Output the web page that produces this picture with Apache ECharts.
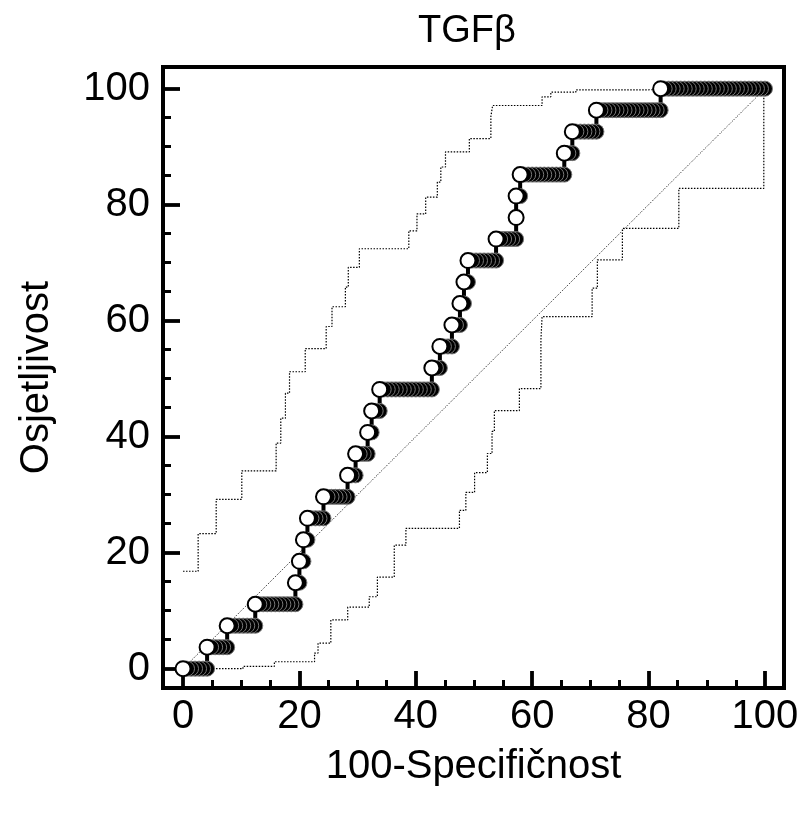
<!DOCTYPE html>
<html><head><meta charset="utf-8">
<script src="https://cdn.jsdelivr.net/npm/echarts@6/dist/echarts.min.js"></script>
<style>html,body{margin:0;padding:0;background:#fff}#c{width:804px;height:814px}</style>
</head><body><div id="c"></div>
<script>
// ---- data ----
const titleText = 'TGFβ';
const xName = '100-Specifičnost';
const yName = 'Osjetljivost';
const majorTicks = [0, 20, 40, 60, 80, 100];
const minorTicks = [5, 10, 15, 25, 30, 35, 45, 50, 55, 65, 70, 75, 85, 90, 95];

// ROC: number of negatives / positives, and false-positive counts reached at each true-positive count
const nNeg = 145;
const nPos = 27;
const fpByTp = [
  [0, 1, 2, 3, 4, 5, 6],
  [6, 7, 8, 9, 10, 11],
  [11, 12, 13, 14, 15, 16, 17, 18],
  [18, 19, 20, 21, 22, 23, 24, 25, 26, 27, 28],
  [28, 29],
  [29, 30],
  [30, 31],
  [31, 32, 33, 34, 35],
  [35, 36, 37, 38, 39, 40, 41],
  [41, 42, 43],
  [43, 44, 45, 46],
  [46, 47],
  [47, 48, 49],
  [49, 50, 51, 52, 53, 54, 55, 56, 57, 58, 59, 60, 61, 62],
  [62, 63, 64],
  [64, 65, 66, 67],
  [67, 68, 69],
  [69, 70],
  [70, 71],
  [71, 72, 73, 74, 75, 76, 77, 78],
  [78, 79, 80, 81, 82, 83],
  [83],
  [83, 84],
  [84, 85, 86, 87, 88, 89, 90, 91, 92, 93, 94, 95],
  [95, 96, 97],
  [97, 98, 99, 100, 101, 102, 103],
  [103, 104, 105, 106, 107, 108, 109, 110, 111, 112, 113, 114, 115, 116, 117, 118, 119],
  [119, 120, 121, 122, 123, 124, 125, 126, 127, 128, 129, 130, 131, 132, 133, 134, 135, 136, 137, 138, 139, 140, 141, 142, 143, 144, 145]
];

// 95% confidence bounds (step points, x = 100-specificity, y = sensitivity)
const upperCI = [
  [0, 16.8], [2.6, 23.3], [5.7, 29.2], [10.1, 34.1], [16.0, 38.9], [16.8, 43.2], [17.6, 47.5],
  [18.3, 51.2], [21.0, 55.2], [24.6, 59.0], [25.6, 62.4], [27.9, 65.8], [28.4, 69.2], [30.3, 72.4],
  [38.8, 75.5], [40.2, 78.4], [41.7, 81.3], [43.7, 83.9], [44.3, 86.5], [45.1, 89.1], [49.2, 91.4],
  [52.9, 95.2], [53.2, 97.1], [61.7, 98.6], [63.2, 99.4], [67.5, 99.8], [78.6, 100], [100, 100]
];
const lowerCI = [
  [0, 0], [10.3, 0.4], [15.7, 1.2], [22.6, 2.7], [23.2, 4.4], [25.4, 8.4], [28.3, 10.6], [32.0, 12.4],
  [33.4, 15.8], [36.3, 21.3], [38.3, 24.2], [47.5, 27.3], [48.6, 30.4], [50.1, 33.8], [52.3, 37.1],
  [53.1, 40.9], [53.5, 44.5], [57.8, 48.3], [61.5, 56.7], [61.7, 60.7], [70.3, 65.6], [71.2, 70.5],
  [75.5, 75.9], [85.2, 82.8], [99.8, 100], [100, 100]
];
const diagonal = [[0, 0], [100, 100]];

// ---- build ----
const rocLine = [];
const rocPoints = [];
fpByTp.forEach((fps, tp) => {
  fps.forEach(fp => rocLine.push([fp * 100 / nNeg, tp * 100 / nPos]));
  const rev = fps.slice().reverse();
  rev.forEach((fp, i) => {
    const lead = i === rev.length - 1; // leftmost point of the run, drawn on top
    rocPoints.push({
      value: [fp * 100 / nNeg, tp * 100 / nPos],
      itemStyle: lead ? {color: '#ffffff', borderColor: '#000', borderWidth: 2, opacity: 1}
                      : {color: '#000000', borderColor: '#777', borderWidth: 1, opacity: 1}
    });
  });
});

const FONT = '"Liberation Sans", Arial, Helvetica, sans-serif';
const FS = 40;
const X_MIN = -3.44, X_MAX = 103.27, Y_MIN = -3.33, Y_MAX = 103.74;

const chart = echarts.init(document.getElementById('c'), null, {renderer: 'canvas'});
chart.setOption({
  animation: false,
  backgroundColor: '#fff',
  graphic: [{
    type: 'text', x: 467, y: 13,
    style: {text: titleText, font: '38px ' + FONT, fill: '#000', align: 'center', verticalAlign: 'top'}
  }],
  grid: {left: 163, top: 67, width: 621, height: 621, show: true, borderColor: '#000', borderWidth: 4},
  xAxis: [{
    type: 'value', min: X_MIN, max: X_MAX, position: 'bottom',
    axisLine: {show: true, onZero: false, lineStyle: {color: '#000', width: 4}},
    axisTick: {show: true, inside: true, length: 17, customValues: majorTicks, lineStyle: {color: '#000', width: 3.8}},
    axisLabel: {show: true, customValues: majorTicks, fontSize: FS, fontFamily: FONT, color: '#000', margin: 9},
    splitLine: {show: false},
    name: xName, nameLocation: 'middle', nameGap: 59,
    nameTextStyle: {fontSize: FS, fontFamily: FONT, color: '#000'}
  }, {
    type: 'value', min: X_MIN, max: X_MAX, position: 'bottom',
    axisLine: {show: false, onZero: false},
    axisTick: {show: true, inside: true, length: 8, customValues: minorTicks, lineStyle: {color: '#000', width: 3}},
    axisLabel: {show: false},
    splitLine: {show: false}
  }],
  yAxis: [{
    type: 'value', min: Y_MIN, max: Y_MAX, position: 'left',
    axisLine: {show: true, onZero: false, lineStyle: {color: '#000', width: 4}},
    axisTick: {show: true, inside: true, length: 17, customValues: majorTicks, lineStyle: {color: '#000', width: 3.8}},
    axisLabel: {show: true, customValues: majorTicks, fontSize: FS, fontFamily: FONT, color: '#000', margin: 13},
    splitLine: {show: false},
    name: yName, nameLocation: 'middle', nameGap: 106,
    nameTextStyle: {fontSize: FS, fontFamily: FONT, color: '#000'}
  }, {
    type: 'value', min: Y_MIN, max: Y_MAX, position: 'left',
    axisLine: {show: false, onZero: false},
    axisTick: {show: true, inside: true, length: 8, customValues: minorTicks, lineStyle: {color: '#000', width: 3}},
    axisLabel: {show: false},
    splitLine: {show: false}
  }],
  series: [
    {type: 'line', data: diagonal, showSymbol: false, symbol: 'none', silent: true, z: 1,
     lineStyle: {color: '#111', width: 1, type: [1, 1.5]}},
    {type: 'line', data: upperCI, step: 'end', showSymbol: false, symbol: 'none', silent: true, z: 1,
     lineStyle: {color: '#000', width: 1.2, type: [1.5, 1.5]}},
    {type: 'line', data: lowerCI, step: 'end', showSymbol: false, symbol: 'none', silent: true, z: 1,
     lineStyle: {color: '#000', width: 1.2, type: [1.5, 1.5]}},
    {type: 'line', data: rocLine, showSymbol: false, symbol: 'none', silent: true, z: 3,
     lineStyle: {color: '#000', width: 4}},
    {type: 'scatter', data: rocPoints, symbol: 'circle', symbolSize: 15, silent: true, z: 4,
     itemStyle: {opacity: 1}}
  ]
});
</script>
</body></html>
